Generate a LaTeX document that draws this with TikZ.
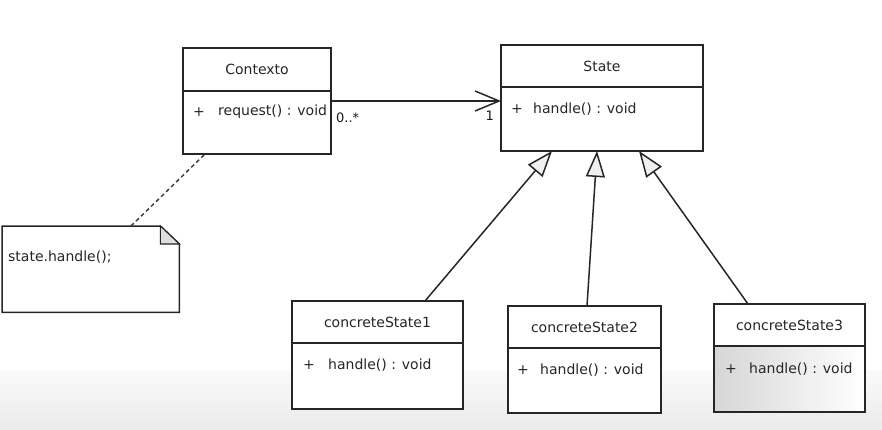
\documentclass[tikz,border=0pt]{standalone}
\usepackage{fontspec}
\setmainfont{DejaVu Sans}
\usetikzlibrary{positioning}
\usetikzlibrary{arrows.meta}

\begin{document}
\begin{tikzpicture}[x=1pt, y=-1pt,
        head/.style={draw=black!85, line width=1.5pt, fill=white, anchor=north west, inner sep=0pt, outer sep=0pt, font=\fontsize{14}{16}\selectfont, text=black!85},
        body/.style={draw=black!85, line width=1.5pt, fill=white, inner sep=0pt, outer sep=0pt},
        op/.style={anchor=west, inner sep=0pt, font=\fontsize{14}{16}\selectfont, text=black!85},
        mult/.style={inner sep=0pt, font=\fontsize{13}{15}\selectfont, text=black!90},
        gen/.style={draw=black!85, line width=1.5pt, -{Triangle[length=26pt, width=19pt, fill=gray!12]}},
        assoc/.style={draw=black!85, line width=1.5pt, -{Straight Barb[length=24pt, width=20pt]}}]
            \useasboundingbox (0,0) rectangle (882,430);
            \shade[top color=black!2, bottom color=black!8] (0,370) rectangle (882,430);

            % classes
            \node[head, minimum width=148pt, minimum height=43pt] (ctxh) at (183,48) {Contexto};
            \node[body, minimum width=148pt, minimum height=63pt, below=0pt of ctxh] (ctxb) {};
            \node[head, minimum width=202pt, minimum height=42pt] (sth) at (501,45) {State};
            \node[body, minimum width=202pt, minimum height=64pt, below=0pt of sth] (stb) {};
            \node[head, minimum width=171pt, minimum height=42pt] (cs1h) at (292,301) {concreteState1};
            \node[body, minimum width=171pt, minimum height=66pt, below=0pt of cs1h] (cs1b) {};
            \node[head, minimum width=153pt, minimum height=42pt] (cs2h) at (508,306) {concreteState2};
            \node[body, minimum width=153pt, minimum height=65pt, below=0pt of cs2h] (cs2b) {};
            \node[head, minimum width=151pt, minimum height=42pt] (cs3h) at (714,304) {concreteState3};
            \node[body, minimum width=151pt, minimum height=66pt, below=0pt of cs3h, left color=gray!32, right color=white] (cs3b) {};

            % operations
            \node[op] at ([xshift=10pt, yshift=-21pt]ctxb.north west) {+};
            \node[op] at ([xshift=35pt, yshift=-21pt]ctxb.north west) {request() : void};
            \node[op] at ([xshift=10pt, yshift=-22pt]stb.north west) {+};
            \node[op] at ([xshift=32pt, yshift=-22pt]stb.north west) {handle() : void};
            \node[op] at ([xshift=11pt, yshift=-22pt]cs1b.north west) {+};
            \node[op] at ([xshift=36pt, yshift=-22pt]cs1b.north west) {handle() : void};
            \node[op] at ([xshift=9pt, yshift=-22pt]cs2b.north west) {+};
            \node[op] at ([xshift=32pt, yshift=-22pt]cs2b.north west) {handle() : void};
            \node[op] at ([xshift=11pt, yshift=-23pt]cs3b.north west) {+};
            \node[op] at ([xshift=35pt, yshift=-23pt]cs3b.north west) {handle() : void};

            % note
            \node[minimum width=177pt, minimum height=86pt, inner sep=0pt, anchor=north west] (note) at (2,226) {};
            \draw[black!85, line width=1.5pt, fill=white] (note.north west) -- ([xshift=-19pt]note.north east) -- ([yshift=-18pt]note.north east) -- (note.south east) -- (note.south west) -- cycle;
            \draw[black!85, line width=1.1pt, fill=gray!25] ([xshift=-19pt]note.north east) -- ([xshift=-19pt, yshift=-18pt]note.north east) -- ([yshift=-18pt]note.north east) -- cycle;
            \node[op] at ([xshift=6pt, yshift=-31pt]note.north west) {state.handle();};
            \draw[black!75, line width=1.5pt, dash pattern=on 4pt off 3pt] ([xshift=129pt]note.north west) -- ([xshift=22pt]ctxb.south west);

            % association
            \draw[assoc] ([yshift=-10pt]ctxb.north east) -- ([yshift=-10pt]ctxb.north east -| stb.west);
            \node[mult, anchor=west] (m0) at ([xshift=5pt, yshift=-27pt]ctxb.north east) {0..*};
            \node[mult, anchor=east] (m1) at ([xshift=-7pt, yshift=-29pt]stb.north west) {1};

            % generalization
            \draw[gen] ([xshift=133pt]cs1h.north west) -- ([xshift=51pt]stb.south west);
            \draw[gen] ([xshift=79pt]cs2h.north west) -- ([xshift=96pt]stb.south west);
            \draw[gen] ([xshift=34pt]cs3h.north west) -- ([xshift=138pt]stb.south west);
        \end{tikzpicture}
\end{document}
